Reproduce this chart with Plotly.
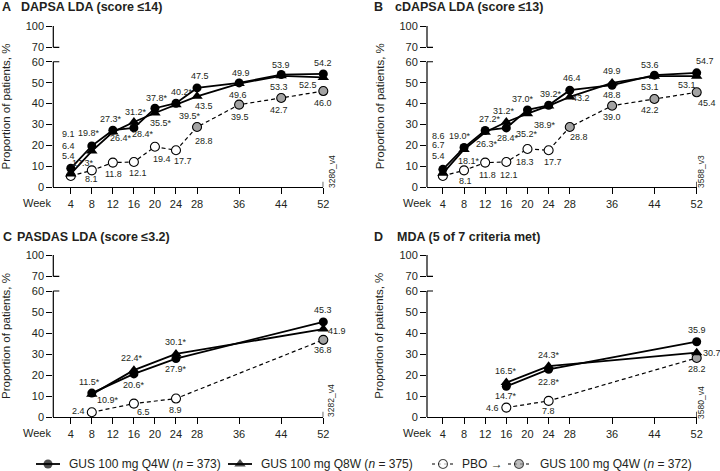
import plotly.graph_objects as go

W, H = 720, 471

# ---------------- data ----------------
weeks_long = [4, 8, 12, 16, 20, 24, 28, 36, 44, 52]
dapsa_q4w = [9.1, 19.8, 27.3, 28.4, 37.8, 40.2, 47.5, 49.9, 53.9, 54.2]
dapsa_q8w = [6.4, 17.3, 26.4, 31.2, 35.5, 39.5, 43.5, 49.6, 53.3, 52.5]
dapsa_pbo = [5.4, 8.1, 11.8, 12.1, 19.4, 17.7, 28.8, 39.5, 42.7, 46.0]
dapsa_sig = [0, 1, 1, 1, 1, 1, 0, 0, 0, 0]

cdapsa_q4w = [8.6, 19.0, 27.2, 28.4, 37.0, 39.2, 46.4, 48.8, 53.6, 54.7]
cdapsa_q8w = [6.7, 18.1, 26.3, 31.2, 35.2, 38.9, 43.2, 49.9, 53.1, 53.1]
cdapsa_pbo = [5.4, 8.1, 11.8, 12.1, 18.3, 17.7, 28.8, 39.0, 42.2, 45.4]
cdapsa_sig = [0, 1, 1, 1, 1, 1, 0, 0, 0, 0]

pasdas_weeks = [8, 16, 24, 52]
pasdas_q4w = [11.5, 20.6, 27.9, 45.3]
pasdas_q8w = [10.9, 22.4, 30.1, 41.9]
pasdas_pbo = [2.4, 6.5, 8.9, 36.8]
pasdas_sig = [1, 1, 1, 0]

mda_weeks = [16, 24, 52]
mda_q4w = [14.7, 22.8, 35.9]
mda_q8w = [16.5, 24.3, 30.7]
mda_pbo = [4.6, 7.8, 28.2]
mda_sig = [1, 1, 0]

crossover_week = 24          # PBO patients switch to GUS after week 24
x_ticks = [4, 8, 12, 16, 20, 24, 28, 36, 44, 52]
y_ticks = [0, 10, 20, 30, 40, 50, 60, 70, 100]

legend_names = ["GUS 100 mg Q4W (<i>n</i> = 373)", "GUS 100 mg Q8W (<i>n</i> = 375)",
                "PBO \u2192", "GUS 100 mg Q4W (<i>n</i> = 372)"]

# ---------------- styling ----------------
FONT = "Liberation Sans, Arial, Helvetica, sans-serif"
TXT = "#231f20"
GRAY = "#a3a3a3"
LBL_SIZE = 9


def ybreak(v):
    """broken y axis: 0-60 linear, then compressed 60-70 gap and 70-100"""
    if v <= 60:
        return v
    if v <= 70:
        return 60 + (v - 60) * 0.69
    return 66.9 + (v - 70) * 0.34


Y_TOP = ybreak(100)

# label offsets (dx, dy) in px, dy positive = downward
offs_A = {
    "q4w": [(-2, -34), (-3, -13), (-2, -11), (9, 6), (2, -10), (6, -11), (3, -12), (2, -10), (0, -10), (0, -11)],
    "q8w": [(-2, -28), (-9, 12), (8, 6), (2, -10), (6, 10), (14, 11), (7, 10), (-1, 11), (-2, 11), (-15, 8)],
    "pbo": [(-2, -20), (0, 9), (1, 11), (4, 11), (7, 12), (7, 11), (7, 14), (1, 12), (-2, 12), (0, 12)],
}
offs_B = {
    "q4w": [(-4, -33), (-4, -12), (5, -11), (2, 10), (-4, -11), (2, -11), (2, -12), (0, 10), (-4, -10), (8, -12)],
    "q8w": [(-4, -28), (5, 12), (2, 12), (-2, -11), (0, 20), (-4, 19), (11, 1), (0, -12), (-4, 11), (-10, 9)],
    "pbo": [(-4, -20), (1, 11), (2, 12), (3, 13), (-2, 13), (4, 12), (9, 10), (0, 11), (-4, 11), (10, 11)],
}
offs_C = {
    "q4w": [(-2, -11), (0, 11), (0, 10), (0, -12)],
    "q8w": [(16, 6), (-2, -12), (0, -12), (14, 2)],
    "pbo": [(-13, -1), (10, 8), (0, 11), (0, 10)],
}
offs_D = {
    "q4w": [(0, 10), (0, 13), (0, -12)],
    "q8w": [(0, -12), (0, -11), (15, 0)],
    "pbo": [(-14, 0), (0, 10), (0, 11)],
}

panels = [
    dict(letter="A", title="DAPSA LDA (score \u226414)", weeks=weeks_long, q4w=dapsa_q4w, q8w=dapsa_q8w,
         pbo=dapsa_pbo, sig=dapsa_sig, offs=offs_A, tag="3280_v4",
         px=(53.3, 323.3), py=(26, 187.3), xr=(0.68, 52), title_xy=(0, 19, 7), tag_xy=(332, 172), week_x=36.5),
    dict(letter="B", title="cDAPSA LDA (score \u226413)", weeks=weeks_long, q4w=cdapsa_q4w, q8w=cdapsa_q8w,
         pbo=cdapsa_pbo, sig=cdapsa_sig, offs=offs_B, tag="3588_v3",
         px=(427, 696.7), py=(26, 187.3), xr=(1.0, 52), title_xy=(372, 393, 7), tag_xy=(701, 172), week_x=417),
    dict(letter="C", title="PASDAS LDA (score \u22643.2)", weeks=pasdas_weeks, q4w=pasdas_q4w, q8w=pasdas_q8w,
         pbo=pasdas_pbo, sig=pasdas_sig, offs=offs_C, tag="3282_v4",
         px=(53.3, 323.3), py=(255, 417.3), xr=(0.68, 52), title_xy=(1, 15, 237), tag_xy=(331, 401), week_x=36.5),
    dict(letter="D", title="MDA (5 of 7 criteria met)", weeks=mda_weeks, q4w=mda_q4w, q8w=mda_q8w,
         pbo=mda_pbo, sig=mda_sig, offs=offs_D, tag="3580_v4",
         px=(427, 696.7), py=(255, 417.3), xr=(1.0, 52), title_xy=(372, 395, 237), tag_xy=(701, 403), week_x=417),
]

fig = go.Figure()
annotations = []
shapes = []

for i, p in enumerate(panels, start=1):
    sfx = "" if i == 1 else str(i)
    xa, ya = "x" + sfx, "y" + sfx
    weeks = p["weeks"]

    # PBO dashed line
    fig.add_trace(go.Scatter(x=weeks, y=[ybreak(v) for v in p["pbo"]], xaxis=xa, yaxis=ya, mode="lines",
                             line=dict(color="black", width=1.2, dash="4px,3px"), cliponaxis=False,
                             showlegend=False, hoverinfo="skip"))
    fig.add_trace(go.Scatter(x=weeks, y=[ybreak(v) for v in p["pbo"]], xaxis=xa, yaxis=ya, mode="markers",
                             marker=dict(symbol="circle", size=9,
                                         color=["white" if w <= crossover_week else GRAY for w in weeks],
                                         line=dict(color="black", width=1.1)),
                             cliponaxis=False, showlegend=False))
    # Q8W
    fig.add_trace(go.Scatter(x=weeks, y=[ybreak(v) for v in p["q8w"]], xaxis=xa, yaxis=ya, mode="lines+markers",
                             line=dict(color="black", width=1.8),
                             marker=dict(symbol="triangle-up", size=10, color="black"),
                             cliponaxis=False, showlegend=False))
    # Q4W
    fig.add_trace(go.Scatter(x=weeks, y=[ybreak(v) for v in p["q4w"]], xaxis=xa, yaxis=ya, mode="lines+markers",
                             line=dict(color="black", width=1.8),
                             marker=dict(symbol="circle", size=9, color="black"),
                             cliponaxis=False, showlegend=False))

    # data labels
    for key, sig_on in (("q4w", True), ("q8w", True), ("pbo", False)):
        for j, (w, v) in enumerate(zip(weeks, p[key])):
            dx, dy = p["offs"][key][j]
            star = "*" if (sig_on and p["sig"][j]) else ""
            annotations.append(dict(x=w, y=ybreak(v), xref=xa, yref=ya, text=f"{v:.1f}{star}",
                                    showarrow=False, xshift=dx, yshift=-dy,
                                    font=dict(size=LBL_SIZE, color=TXT, family=FONT)))

    x0, x1 = p["px"]
    yt, yb = p["py"]
    fig.update_layout(**{
        "xaxis" + sfx: dict(domain=[x0 / W, x1 / W], range=list(p["xr"]), anchor=ya,
                            tickvals=x_ticks, ticktext=[str(t) for t in x_ticks],
                            ticks="outside", ticklen=6, tickwidth=1.2, tickcolor="black",
                            showline=True, linecolor="black", linewidth=1.2,
                            showgrid=False, zeroline=False, automargin=False,
                            tickfont=dict(size=11, color=TXT, family=FONT)),
        "yaxis" + sfx: dict(domain=[1 - yb / H, 1 - yt / H], range=[0, Y_TOP], anchor=xa,
                            tickvals=[ybreak(t) for t in y_ticks], ticktext=[str(t) for t in y_ticks],
                            ticks="outside", ticklen=6, tickwidth=1.2, tickcolor="black",
                            showline=False, showgrid=False, zeroline=False, automargin=False,
                            tickfont=dict(size=11, color=TXT, family=FONT)),
    })

    # broken y-axis line
    xp = x0 / W
    for a, b in ((0, 60), (ybreak(70), ybreak(100))):
        shapes.append(dict(type="line", xref="paper", yref=ya, x0=xp, x1=xp, y0=a, y1=b,
                           line=dict(color="black", width=1.2)))
    for yv in (60, 70):
        shapes.append(dict(type="line", xref="paper", yref=ya, x0=xp, x1=xp + 6 / W,
                           y0=ybreak(yv), y1=ybreak(yv), line=dict(color="black", width=1.2)))
    # small upward stub at the right end of x axis
    shapes.append(dict(type="line", xref=xa, yref=ya, x0=52, x1=52, y0=0, y1=2.6,
                       line=dict(color="black", width=1.2)))

    # titles
    lx, tx, ty = p["title_xy"]
    annotations.append(dict(x=lx / W, y=1 - ty / H, xref="paper", yref="paper", xanchor="left", yanchor="middle",
                            text="<b>" + p["letter"] + "</b>", showarrow=False,
                            font=dict(size=12.5, color=TXT, family=FONT)))
    annotations.append(dict(x=tx / W, y=1 - ty / H, xref="paper", yref="paper", xanchor="left", yanchor="middle",
                            text="<b>" + p["title"] + "</b>", showarrow=False,
                            font=dict(size=12.5, color=TXT, family=FONT)))
    # y-axis title
    annotations.append(dict(x=(x0 - 47.5) / W, y=1 - ((yt + yb) / 2) / H, xref="paper", yref="paper",
                            xanchor="center", yanchor="middle", textangle=-90,
                            text="Proportion of patients, %", showarrow=False,
                            font=dict(size=11.5, color=TXT, family=FONT)))
    # "Week" label
    annotations.append(dict(x=p["week_x"] / W, y=1 - (yb + 16) / H, xref="paper", yref="paper",
                            xanchor="center", yanchor="middle", text="Week", showarrow=False,
                            font=dict(size=11, color=TXT, family=FONT)))
    # figure tag
    tx2, ty2 = p["tag_xy"]
    annotations.append(dict(x=tx2 / W, y=1 - ty2 / H, xref="paper", yref="paper",
                            xanchor="center", yanchor="middle", textangle=-90, text=p["tag"], showarrow=False,
                            font=dict(size=8.5, color=TXT, family=FONT)))

# ---------------- legend (overlay axis in pixel units) ----------------
LY = 464
leg_items = [
    dict(x=[36, 48, 60], line=dict(color="black", width=1.8), sym="circle", col="black", lw=0, tx=67),
    dict(x=[228, 240, 252], line=dict(color="black", width=1.8), sym="triangle-up", col="black", lw=0, tx=259),
    dict(x=[432, 443, 455], line=dict(color="black", width=1.2, dash="3px,3px"), sym="circle", col="white", lw=1.1, tx=460),
    dict(x=[508, 519, 531], line=dict(color="black", width=1.2, dash="3px,3px"), sym="circle", col=GRAY, lw=1.1, tx=538),
]
for it, name in zip(leg_items, legend_names):
    fig.add_trace(go.Scatter(x=it["x"], y=[LY] * 3, xaxis="x5", yaxis="y5", mode="lines+markers",
                             line=it["line"],
                             marker=dict(symbol=it["sym"], size=[0, 9 if it["sym"] == "circle" else 10, 0],
                                         color=it["col"], line=dict(color="black", width=it["lw"])),
                             showlegend=False, hoverinfo="skip", cliponaxis=False))
    annotations.append(dict(x=it["tx"], y=LY, xref="x5", yref="y5", xanchor="left", yanchor="middle",
                            text=name, showarrow=False, font=dict(size=12, color=TXT, family=FONT)))

fig.update_layout(
    xaxis5=dict(domain=[0, 1], range=[0, W], visible=False, anchor="y5"),
    yaxis5=dict(domain=[0, 1], range=[H, 0], visible=False, anchor="x5"),
    width=W, height=H, margin=dict(l=0, r=0, t=0, b=0, pad=0),
    paper_bgcolor="white", plot_bgcolor="rgba(0,0,0,0)",
    annotations=annotations, shapes=shapes, showlegend=False,
    font=dict(family=FONT, color=TXT),
)

fig.write_html("out.html", config={"displayModeBar": False},
               post_script="document.body.style.margin='0';document.body.style.padding='0';"
                           "document.body.style.overflow='hidden';")
